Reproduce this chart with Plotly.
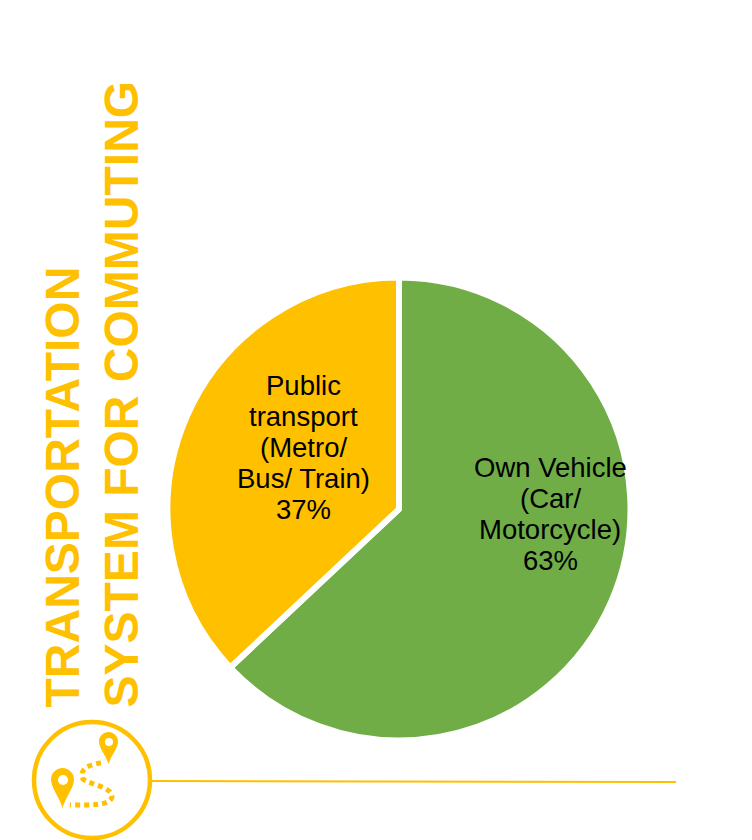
import plotly.graph_objects as go

slice_names = ["Own Vehicle", "Public transport"]
values = [63, 37]
colors = ["#70AD47", "#FFC000"]
green_lines = ["Own Vehicle", "(Car/", "Motorcycle)", "63%"]
gold_lines = ["Public", "transport", "(Metro/", "Bus/ Train)", "37%"]
title_lines = ["TRANSPORTATION", "SYSTEM FOR COMMUTING"]

# the page body has an 8px margin, so the figure is 8px smaller and coordinates shift
MARGIN = 8
W, H = 752 - MARGIN, 840 - MARGIN
gold = "#FFC000"


def px(x):
    return (x - MARGIN) / W


def py(y):
    return 1 - (y - MARGIN) / H


def pin(tip_x, tip_y, top_y, half_w):
    # teardrop map pin, from the tip up round the head and back
    head_y = top_y + half_w
    k = half_w * 0.55
    return (
        f"M {px(tip_x)} {py(tip_y)} "
        f"C {px(tip_x - half_w * 0.3)} {py(tip_y - (tip_y - head_y) * 0.4)}, {px(tip_x - half_w)} {py(head_y + half_w * 0.7)}, {px(tip_x - half_w)} {py(head_y)} "
        f"C {px(tip_x - half_w)} {py(head_y - k)}, {px(tip_x - k)} {py(top_y)}, {px(tip_x)} {py(top_y)} "
        f"C {px(tip_x + k)} {py(top_y)}, {px(tip_x + half_w)} {py(head_y - k)}, {px(tip_x + half_w)} {py(head_y)} "
        f"C {px(tip_x + half_w)} {py(head_y + half_w * 0.7)}, {px(tip_x + half_w * 0.3)} {py(tip_y - (tip_y - head_y) * 0.4)}, {px(tip_x)} {py(tip_y)} Z"
    )


fig = go.Figure(go.Pie(
    labels=slice_names,
    values=values,
    textinfo="none",
    sort=False,
    direction="clockwise",
    rotation=0,
    marker=dict(colors=colors, line=dict(color="white", width=6)),
    hoverinfo="skip",
    domain=dict(x=[px(167.5), px(630.5)], y=[py(740.5), py(277.5)]),
))

# slice labels, one annotation per line to hold the tight line spacing
for lines, cx, top in [(green_lines, 550, 467), (gold_lines, 303.5, 385)]:
    for i, line in enumerate(lines):
        fig.add_annotation(x=px(cx), y=py(top + i * 31.2), xref="paper", yref="paper", text=line,
                           showarrow=False, xanchor="center", yanchor="middle",
                           font=dict(family="Liberation Sans", size=27.5, color="black"))

# vertical heading
for line, x in zip(title_lines, [62, 121]):
    fig.add_annotation(x=px(x), y=py(710), xref="paper", yref="paper", text=f"<b>{line}</b>",
                       textangle=-90, showarrow=False, xanchor="center", yanchor="bottom",
                       font=dict(family="Liberation Sans", size=48, color=gold))

shapes = [
    dict(type="circle", xref="paper", yref="paper", x0=px(34), x1=px(150), y0=py(838), y1=py(722),
         line=dict(color=gold, width=4.5)),
    dict(type="line", xref="paper", yref="paper", x0=px(152), x1=px(676), y0=py(781), y1=py(782),
         line=dict(color=gold, width=2)),
    # dotted route between the two pins
    dict(type="path", xref="paper", yref="paper",
         path=f"M {px(101)} {py(763)} C {px(92)} {py(764)}, {px(78)} {py(768)}, {px(83)} {py(779)} "
              f"C {px(88)} {py(784)}, {px(113)} {py(787)}, {px(112)} {py(797)} "
              f"C {px(110)} {py(806)}, {px(90)} {py(805)}, {px(70)} {py(805)}",
         line=dict(color=gold, width=5, dash="5px,4px")),
    # pins
    dict(type="path", xref="paper", yref="paper", fillcolor=gold, line=dict(color=gold, width=0),
         path=pin(108.5, 764, 732, 9.5)),
    dict(type="circle", xref="paper", yref="paper", x0=px(105), x1=px(113), y0=py(746), y1=py(738),
         fillcolor="white", line=dict(color="white", width=0)),
    dict(type="path", xref="paper", yref="paper", fillcolor=gold, line=dict(color=gold, width=0),
         path=pin(62.5, 808, 768, 11.5)),
    dict(type="circle", xref="paper", yref="paper", x0=px(58), x1=px(68), y0=py(785), y1=py(775),
         fillcolor="white", line=dict(color="white", width=0)),
]

fig.update_layout(
    width=W, height=H,
    margin=dict(l=0, r=0, t=0, b=0),
    showlegend=False,
    paper_bgcolor="white",
    shapes=shapes,
)

fig.write_html("out.html")
